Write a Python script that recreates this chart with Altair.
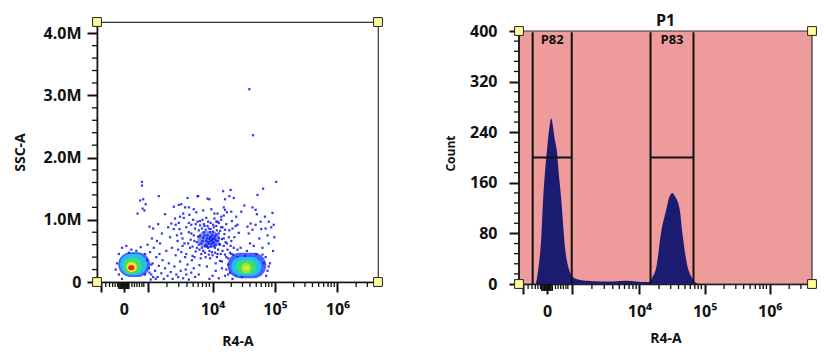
import altair as alt
import pandas as pd

# ---------------- data ----------------
# R4-A is given in display units of the biexponential axis:
# 0 -> 2.58, 10^3 -> 2.96, 10^4 -> 4, 10^5 -> 5, 10^6 -> 6.  SSC-A in millions.
X_DOMAIN = [2.15, 6.65]

dots_upper = [
    (2.87, 1.61), (2.87, 1.55), (3.14, 1.38), (2.89, 1.33), (2.84, 1.31), (2.93, 1.25),
    (2.88, 1.18), (2.91, 1.15), (2.80, 1.10), (3.24, 1.09), (3.60, 1.35), (3.76, 1.38),
    (3.38, 1.21), (3.46, 1.24), (3.50, 1.25), (3.56, 1.20), (3.62, 1.20), (3.70, 1.17),
    (3.53, 1.10), (3.48, 1.05), (3.13, 0.93), (2.99, 0.89), (3.05, 0.86), (3.29, 0.88),
    (3.34, 0.94), (3.41, 0.92), (3.77, 1.38), (3.92, 1.34), (3.95, 1.33), (4.17, 1.46),
    (4.29, 1.48), (4.27, 1.38), (4.34, 1.35), (4.20, 1.33), (4.72, 1.40), (4.81, 1.50),
    (5.02, 1.61), (4.51, 1.23), (4.64, 1.20), (4.69, 1.16), (4.46, 1.13), (4.30, 1.13),
    (4.18, 1.20), (4.20, 1.16), (4.96, 1.11), (4.84, 1.05), (4.71, 1.09), (4.61, 0.94),
    (4.77, 0.97), (4.90, 0.97), (4.98, 0.92), (4.69, 0.92), (4.85, 0.86), (4.56, 0.89),
    (4.40, 0.92), (4.08, 0.97), (4.14, 1.05), (4.03, 1.10), (4.59, 3.10), (4.65, 2.36),
]
dots_cloud = [
    (3.82, 0.62), (3.85, 0.71), (3.88, 0.58), (3.90, 0.66), (3.92, 0.75), (3.94, 0.62),
    (3.95, 0.69), (3.97, 0.57), (3.98, 0.73), (4.00, 0.64), (4.01, 0.81), (4.03, 0.69),
    (4.05, 0.60), (4.06, 0.76), (4.08, 0.66), (3.86, 0.80), (3.89, 0.84), (3.93, 0.55),
    (3.96, 0.80), (3.99, 0.68), (4.02, 0.58), (4.04, 0.73), (4.07, 0.83), (3.84, 0.66),
    (3.87, 0.75), (3.91, 0.70), (3.93, 0.64), (3.96, 0.72), (4.00, 0.76), (4.02, 0.63),
    (3.80, 0.74), (3.83, 0.55), (4.10, 0.71), (4.11, 0.61), (3.94, 0.86), (3.98, 0.61),
    (4.05, 0.67), (3.90, 0.60), (3.97, 0.66), (4.01, 0.70),
    (3.62, 0.80), (3.65, 0.68), (3.66, 0.92), (3.68, 0.57), (3.70, 0.75), (3.72, 0.86),
    (3.73, 0.49), (3.75, 0.64), (3.76, 0.97), (3.78, 0.83), (3.79, 0.52), (3.80, 0.91),
    (3.82, 0.45), (3.84, 1.00), (3.86, 0.93), (3.88, 0.47), (3.90, 1.03), (3.92, 0.90),
    (3.94, 0.44), (3.97, 0.95), (3.99, 0.48), (4.01, 0.92), (4.03, 1.02), (4.04, 0.47),
    (4.06, 0.90), (4.09, 0.52), (4.10, 0.95), (4.12, 0.82), (4.13, 0.45), (4.15, 0.69),
    (4.16, 0.88), (4.18, 0.58), (4.19, 0.77), (4.21, 0.64), (4.22, 0.93), (4.24, 0.52),
    (3.64, 0.55), (3.69, 1.00), (3.71, 0.40), (3.77, 0.73), (3.81, 0.38), (3.96, 0.38),
    (4.07, 0.40), (4.14, 1.00), (4.20, 0.44),
    (3.32, 0.72), (3.35, 0.55), (3.38, 0.85), (3.41, 0.43), (3.44, 0.66), (3.46, 0.95),
    (3.48, 0.33), (3.50, 0.78), (3.52, 0.58), (3.54, 1.03), (3.56, 0.40), (3.58, 0.88),
    (3.60, 0.28), (3.61, 0.62), (3.63, 1.08), (3.67, 0.35), (3.74, 1.12), (3.79, 0.27),
    (3.85, 1.15), (3.91, 0.25), (3.98, 1.17), (4.05, 0.30), (4.08, 1.10), (4.15, 0.33),
    (4.18, 1.07), (4.25, 0.38), (4.27, 0.83), (4.29, 0.58), (4.31, 0.98), (4.33, 0.44),
    (4.35, 0.72), (4.37, 0.90), (4.40, 0.52), (4.42, 0.79), (4.44, 0.35), (3.40, 1.02),
    (3.57, 0.20), (3.70, 0.22), (4.23, 1.12), (4.38, 1.05),
    (3.55, 0.62), (3.58, 0.45), (3.62, 0.95), (3.66, 0.78), (3.68, 0.42), (3.71, 0.66),
    (3.73, 0.93), (3.75, 0.55), (3.78, 0.60), (3.80, 0.98), (3.83, 0.86), (3.85, 0.50),
    (3.87, 0.90), (3.89, 0.40), (3.91, 0.57), (3.93, 0.97), (3.95, 0.50), (3.97, 0.85),
    (4.00, 0.43), (4.02, 0.88), (4.04, 0.55), (4.06, 0.97), (4.08, 0.45), (4.10, 0.78),
    (4.12, 0.60), (4.14, 0.88), (4.16, 0.50), (4.18, 0.70), (4.20, 0.84), (4.23, 0.62),
    (4.26, 0.72), (4.28, 0.47), (4.30, 0.66), (4.32, 0.86), (4.34, 0.55), (3.52, 0.70),
    (3.50, 0.48), (3.47, 0.85), (3.45, 0.52), (3.43, 0.75),
]
dots_lower = [
    (2.95, 0.35), (2.98, 0.22), (3.00, 0.48), (3.02, 0.12), (3.04, 0.30), (3.06, 0.55),
    (3.08, 0.18), (3.10, 0.40), (3.12, 0.08), (3.14, 0.26), (3.16, 0.62), (3.18, 0.14),
    (3.20, 0.35), (3.22, 0.05), (3.24, 0.22), (3.26, 0.50), (3.28, 0.10), (3.30, 0.30),
    (3.33, 0.16), (3.36, 0.05), (3.39, 0.25), (3.42, 0.12), (3.45, 0.08), (3.49, 0.18),
    (3.53, 0.06), (3.58, 0.12), (3.62, 0.04), (3.66, 0.15), (3.72, 0.08), (3.78, 0.12),
    (2.96, 0.60), (3.03, 0.70), (3.11, 0.66), (3.19, 0.78), (2.92, 0.45), (3.01, 0.04),
    (3.09, 0.05), (3.15, 0.45), (2.99, 0.15), (3.05, 0.08),
    (2.55, 0.55), (2.62, 0.58), (2.70, 0.52), (2.78, 0.50), (2.85, 0.56), (2.66, 0.47),
    (2.74, 0.44), (2.88, 0.40), (2.50, 0.45), (2.90, 0.28), (2.92, 0.12), (2.82, 0.35),
    (2.47, 0.30), (2.45, 0.20), (2.50, 0.12), (3.02, 0.28), (2.55, 0.05),
    (4.05, 0.18), (4.10, 0.06), (4.15, 0.22), (4.20, 0.10), (4.25, 0.28), (4.28, 0.15),
    (4.32, 0.05), (4.35, 0.25), (4.38, 0.12), (4.40, 0.40), (4.42, 0.20), (4.45, 0.55),
    (4.47, 0.08), (4.50, 0.32), (4.12, 0.34), (4.22, 0.40), (4.00, 0.10), (3.95, 0.05),
    (4.55, 0.50), (4.60, 0.62), (4.64, 0.84), (4.70, 0.45), (4.75, 0.70), (4.80, 0.55),
    (4.85, 0.40), (4.88, 0.75), (4.94, 0.88), (4.97, 0.50), (4.92, 0.30), (4.82, 0.30),
    (4.58, 0.78), (4.52, 0.42), (4.66, 0.58), (4.73, 0.35), (4.78, 0.85), (4.90, 0.62),
    (4.99, 0.72), (4.62, 0.38), (4.22, 0.20), (4.25, 0.12), (4.88, 0.18), (4.90, 0.25),
    (4.86, 0.10), (4.30, 0.45), (4.80, 0.44),
]

# density contours of the two bright populations and the central cloud
blob_level = ["blue", "cyan", "green", "yellow", "red",
              "blue", "cyan", "green", "lime", "pale", "cloud"]
blob_x0 = [2.49, 2.52, 2.57, 2.62, 2.65, 4.24, 4.30, 4.38, 4.46, 4.49, 3.76]
blob_x1 = [3.00, 2.95, 2.87, 2.79, 2.75, 4.86, 4.78, 4.70, 4.62, 4.59, 4.12]
blob_y0 = [0.08, 0.11, 0.13, 0.16, 0.19, 0.06, 0.10, 0.13, 0.14, 0.18, 0.55]
blob_y1 = [0.48, 0.45, 0.39, 0.32, 0.27, 0.47, 0.40, 0.35, 0.31, 0.26, 0.82]

# histogram of R4-A (count)
hist_r4 = [2.15, 2.40, 2.45, 2.49, 2.52, 2.56, 2.58, 2.62, 2.645, 2.67, 2.70, 2.73,
           2.77, 2.80, 2.83, 2.86, 2.90, 2.94, 2.98, 3.03, 3.20, 3.40, 3.60, 3.80,
           3.95, 4.08, 4.15, 4.20, 4.26, 4.33, 4.41, 4.46, 4.505, 4.55, 4.62, 4.66,
           4.74, 4.80, 4.85, 4.92, 6.65]
hist_count = [0, 0, 27, 70, 133, 190, 212, 250, 262, 250, 228, 212,
              165, 133, 90, 54, 30, 17, 11, 8, 5, 4, 4, 5,
              4, 3, 3, 11, 27, 80, 117, 138, 144, 138, 117, 80,
              27, 11, 3, 0, 0]

gate_names = ["P82", "P83"]
gate_left = [2.36, 4.17]
gate_right = [2.96, 4.83]
gate_level = [200, 200]

# axis ticks
x_major = [2.21, 2.58, 2.96, 4.0, 5.0, 6.0]
x_minor = [2.29, 2.35, 2.40, 2.44, 2.48, 2.71, 2.75, 2.79, 2.83, 2.87, 2.90,
           3.27, 3.46, 3.59, 3.69, 3.77, 3.84, 3.90, 3.95,
           4.30, 4.48, 4.60, 4.70, 4.78, 4.85, 4.90, 4.95,
           5.30, 5.48, 5.60, 5.70, 5.78, 5.85, 5.90, 5.95,
           6.30, 6.48, 6.60]
x_dense = [2.50, 2.52, 2.54, 2.56, 2.58, 2.60, 2.62, 2.64, 2.66]
ssc_major = [0, 1, 2, 3, 4]
ssc_minor = [0.2, 0.4, 0.6, 0.8, 1.2, 1.4, 1.6, 1.8, 2.2, 2.4, 2.6, 2.8,
             3.2, 3.4, 3.6, 3.8]
cnt_major = [0, 80, 160, 240, 320, 400]
cnt_minor = [16, 32, 48, 64, 96, 112, 128, 144, 176, 192, 208, 224,
             256, 272, 288, 304, 336, 352, 368, 384]
CNT_TOP = 400

# ---------------- frames ----------------
dots = pd.DataFrame(dots_upper + dots_cloud + dots_lower, columns=["r4", "ssc"])
blobs = pd.DataFrame({"level": blob_level, "x0": blob_x0, "x1": blob_x1,
                      "y0": blob_y0, "y1": blob_y1})
hist = pd.DataFrame({"r4": hist_r4, "count": hist_count})
gates = pd.DataFrame({"name": gate_names, "left": gate_left, "right": gate_right,
                      "level": gate_level})
gate_edges = pd.DataFrame({"edge": gate_left + gate_right})
xminor_df = pd.DataFrame({"v": x_minor})
xdense_df = pd.DataFrame({"v": x_dense})
ssc_minor_df = pd.DataFrame({"v": ssc_minor})
cnt_minor_df = pd.DataFrame({"v": cnt_minor})

FONT = "Open Sans"
INK = "#111111"
X_LABELS = ("datum.value == 2.58 ? '0' : datum.value == 4 ? '10⁴' : "
            "datum.value == 5 ? '10⁵' : datum.value == 6 ? '10⁶' : ''")


def x_axis(title_pad):
    return alt.Axis(
        values=x_major, labelExpr=X_LABELS, title="R4-A", tickSize=10, tickWidth=2,
        labelPadding=9, titlePadding=title_pad, grid=False, labelOverlap=False,
        labelFlush=False, labelFontSize=16, titleFontSize=14,
    )


x_scale = alt.Scale(domain=X_DOMAIN, nice=False, zero=False)

blob_colors = alt.Scale(
    domain=["cloud", "blue", "cyan", "green", "yellow", "red", "lime", "pale"],
    range=["#4a74ff", "#2a44ff", "#1cc2f2", "#3fdc70", "#e8e81e", "#f02014",
           "#9ce830", "#c6f040"],
)

SQUARE = dict(size=78, fill="#ffff99", stroke="#222222", strokeWidth=1, opacity=1, clip=False)


def corner(xenc, yenc):
    return alt.Chart(alt.Data(values=[{}])).mark_square(**SQUARE).encode(x=xenc, y=yenc)


def x_minor_ticks(h):
    a = (alt.Chart(xminor_df).mark_rule(color=INK, strokeWidth=1.3)
         .encode(x="v:Q", y=alt.value(h), y2=alt.value(h + 5)))
    b = (alt.Chart(xdense_df).mark_rule(color=INK, strokeWidth=1.6)
         .encode(x="v:Q", y=alt.value(h), y2=alt.value(h + 7)))
    return [a, b]


def y_minor_ticks(df):
    return (alt.Chart(df).mark_rule(color=INK, strokeWidth=1.3)
            .encode(y="v:Q", x=alt.value(-5), x2=alt.value(0)))


LW, LH = 281, 260
RW, RH = 293, 262          # right view: 253 px for counts 0..400 plus 9 px above
CNT_DOMAIN_TOP = 414.23

# ---------------- left panel: SSC-A vs R4-A ----------------
ssc_axis = alt.Axis(
    values=ssc_major, title="SSC-A",
    labelExpr="datum.value == 0 ? '0' : format(datum.value, '.1f') + 'M'",
    tickSize=10, tickWidth=2, labelPadding=6, titlePadding=16, grid=False,
    labelOverlap=False, labelFlush=False, labelFontSize=16, titleFontSize=14,
)

cloud_blob = (
    alt.Chart(blobs).transform_filter("datum.level == 'cloud'")
    .mark_rect(cornerRadius=60, opacity=0.75)
    .encode(
        x=alt.X("x0:Q", scale=x_scale, axis=x_axis(17)),
        x2="x1:Q",
        y=alt.Y("y0:Q", scale=alt.Scale(domain=[0, 4.18], nice=False), axis=ssc_axis),
        y2="y1:Q",
        color=alt.Color("level:N", scale=blob_colors, legend=None),
    )
)
outer_blobs = (
    alt.Chart(blobs).transform_filter("datum.level == 'blue'")
    .mark_rect(cornerRadius=60, opacity=0.85)
    .encode(x="x0:Q", x2="x1:Q", y="y0:Q", y2="y1:Q",
            color=alt.Color("level:N", scale=blob_colors, legend=None))
)
dot_layer = (
    alt.Chart(dots).mark_square(size=5, color="#1414ec", opacity=0.85)
    .encode(x="r4:Q", y="ssc:Q")
)
inner_blobs = (
    alt.Chart(blobs).transform_filter("datum.level != 'blue' && datum.level != 'cloud'")
    .mark_rect(cornerRadius=60)
    .encode(x="x0:Q", x2="x1:Q", y="y0:Q", y2="y1:Q",
            color=alt.Color("level:N", scale=blob_colors, legend=None))
)

left = alt.layer(
    cloud_blob, outer_blobs, dot_layer, inner_blobs, *x_minor_ticks(LH),
    y_minor_ticks(ssc_minor_df),
    corner(alt.value(0), alt.value(0)), corner(alt.value(LW), alt.value(0)),
    corner(alt.value(0), alt.value(LH)), corner(alt.value(LW), alt.value(LH)),
).properties(
    width=LW, height=LH,
    view=alt.ViewBackground(stroke="#333333", strokeWidth=1.2, fill="white"),
)

# ---------------- right panel: histogram ----------------
cnt_axis = alt.Axis(
    values=cnt_major, title="Count", tickSize=10, tickWidth=2, domain=False,
    labelPadding=12, titlePadding=12, grid=False, labelOverlap=False,
    labelFlush=False, labelFontSize=16, titleFontSize=12,
)
cnt_scale = alt.Scale(domain=[0, CNT_DOMAIN_TOP], nice=False)

pink = (
    alt.Chart(alt.Data(values=[{}]))
    .mark_rect(fill="#ee9b9b", stroke="#333333", strokeWidth=1.2)
    .encode(x=alt.value(0), x2=alt.value(RW), y=alt.datum(0), y2=alt.datum(CNT_TOP))
)
hist_layer = (
    alt.Chart(hist).mark_area(color="#1b1b72", interpolate="monotone", clip=True)
    .encode(
        x=alt.X("r4:Q", scale=x_scale, axis=x_axis(12)),
        y=alt.Y("count:Q", scale=cnt_scale, axis=cnt_axis),
    )
)
y_line = (
    alt.Chart(alt.Data(values=[{}])).mark_rule(color=INK, strokeWidth=1.6)
    .encode(x=alt.value(0), y=alt.datum(0), y2=alt.datum(CNT_TOP))
)
gate_vert = (
    alt.Chart(gate_edges).mark_rule(color=INK, strokeWidth=2)
    .encode(x="edge:Q", y=alt.datum(0), y2=alt.datum(398))
)
gate_horiz = (
    alt.Chart(gates).mark_rule(color=INK, strokeWidth=2)
    .encode(x="left:Q", x2="right:Q", y="level:Q")
)
gate_text = (
    alt.Chart(gates).transform_calculate(mid="(datum.left + datum.right) / 2")
    .mark_text(font=FONT, fontWeight="bold", fontSize=13, color=INK, baseline="middle")
    .encode(x="mid:Q", y=alt.datum(386), text="name:N")
)

right = alt.layer(
    pink, hist_layer, y_line, gate_vert, gate_horiz, gate_text, *x_minor_ticks(RH),
    y_minor_ticks(cnt_minor_df),
    corner(alt.value(0), alt.datum(CNT_TOP)), corner(alt.value(RW), alt.datum(CNT_TOP)),
    corner(alt.value(0), alt.value(RH)), corner(alt.value(RW), alt.value(RH)),
).properties(
    width=RW, height=RH,
    title=alt.TitleParams("P1", fontSize=16, font=FONT, fontWeight="bold", offset=-7,
                          anchor="middle", color=INK),
    view=alt.ViewBackground(stroke="transparent", fill="white"),
)

chart = (
    alt.concat(left, right, columns=2, spacing=58, align="none")
    .properties(padding={"left": 12, "top": 12, "right": 6, "bottom": 2}, background="white")
    .configure_axis(
        labelFont=FONT, titleFont=FONT, labelFontWeight="bold", titleFontWeight="bold",
        labelColor=INK, titleColor=INK, domainColor=INK,
        domainWidth=1.6, tickColor=INK, labelOverlap=False,
    )
)

chart.save("out.html", embed_options={"renderer": "svg", "actions": False})
